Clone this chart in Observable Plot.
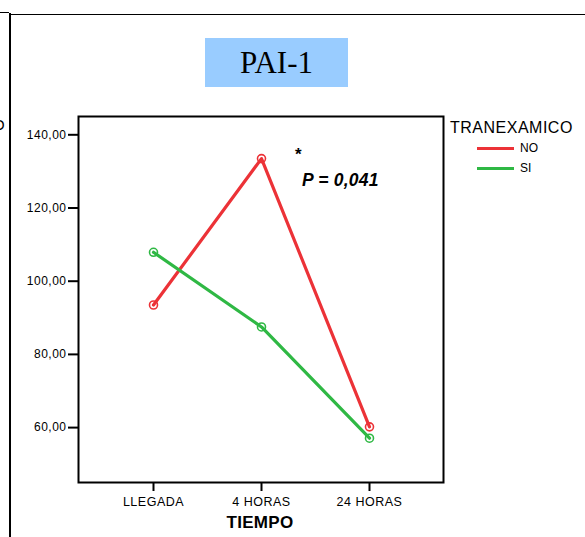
<!DOCTYPE html>
<html>
<head>
<meta charset="utf-8">
<script src="https://cdn.jsdelivr.net/npm/d3@7"></script>
<script src="https://cdn.jsdelivr.net/npm/@observablehq/plot@0.6"></script>
<style>
  html, body { margin: 0; padding: 0; background: #fff; }
  #wrap { position: relative; width: 585px; height: 537px; overflow: hidden; font-family: "Liberation Sans", Arial, sans-serif; }
  #wrap svg { position: absolute; left: 0; top: 0; }
  .abs { position: absolute; white-space: nowrap; }
</style>
</head>
<body>
<div id="wrap">
  <div class="abs" style="left:9px;top:13px;width:2px;height:530px;background:#000"></div>
  <div class="abs" style="left:11px;top:14px;width:580px;height:1px;background:#000"></div>
  <div class="abs" style="left:0px;top:12px;width:9px;height:1px;background:#000"></div>
  <div class="abs" style="left:-7px;top:116px;font-size:15px;line-height:18px;">O</div>
</div>
<script>
const categories = ["LLEGADA", "4 HORAS", "24 HORAS"];
const groups = ["NO", "SI"];
const valuesNO = [93.5, 133.5, 60.2];
const valuesSI = [107.9, 87.5, 57.1];
const yTicks = [60, 80, 100, 120, 140];
const colors = ["#ec3237", "#2fb844"];
const titleText = "PAI-1";
const legendTitle = "TRANEXAMICO";
const xLabel = "TIEMPO";
const annotStar = "*";
const annotP = "P = 0,041";

const data = [];
categories.forEach((c, i) => {
  data.push({tiempo: c, grupo: "NO", value: valuesNO[i]});
  data.push({tiempo: c, grupo: "SI", value: valuesSI[i]});
});

const fmt = v => v.toFixed(2).replace(".", ",");

const chart = Plot.plot({
  width: 585,
  height: 537,
  marginLeft: 78,
  marginRight: 142,
  marginTop: 116,
  marginBottom: 55,
  style: {fontFamily: "'Liberation Sans', Arial, sans-serif", background: "transparent"},
  x: {type: "point", domain: categories, padding: 0.675},
  y: {domain: [45, 145]},
  color: {domain: groups, range: colors},
  marks: [
    Plot.axisY({ticks: yTicks, tickFormat: fmt, tickSize: 10, tickPadding: 2, fontSize: 12, label: null, stroke: "#000", strokeWidth: 2, color: "#000"}),
    Plot.axisX({tickSize: 9, tickPadding: 6, fontSize: 12.5, label: null, stroke: "#000", strokeWidth: 2, color: "#000"}),
    Plot.frame({stroke: "#000", strokeWidth: 2}),
    Plot.line(data, {x: "tiempo", y: "value", z: "grupo", stroke: "grupo", strokeWidth: 3.2}),
    Plot.dot(data, {x: "tiempo", y: "value", stroke: "grupo", r: 4, strokeWidth: 1.6, fill: "none"})
  ]
});
const wrap = document.getElementById("wrap");
wrap.appendChild(chart);
chart.querySelectorAll("text").forEach(t => t.style.letterSpacing = "0.5px");

function addDiv(html, style) {
  const d = document.createElement("div");
  d.className = "abs";
  d.setAttribute("style", style);
  d.textContent = html;
  wrap.appendChild(d);
  return d;
}
// title
addDiv(titleText, "left:205px;top:38px;width:143px;height:49px;background:#99ccff;font-family:'Liberation Serif','Times New Roman',serif;font-size:31px;line-height:49px;text-align:center;color:#000;");
// x axis title
addDiv(xLabel, "left:160px;top:512px;width:200px;text-align:center;font-size:17px;font-weight:bold;line-height:22px;letter-spacing:0.3px;");
// annotation
addDiv(annotStar, "left:295px;top:145px;font-size:17px;font-weight:bold;line-height:20px;");
addDiv(annotP, "left:302px;top:170px;font-size:17.5px;font-weight:bold;font-style:italic;line-height:20px;letter-spacing:0.2px;");
// legend
addDiv(legendTitle, "left:450px;top:118px;font-size:16px;line-height:20px;letter-spacing:0.5px;");
groups.forEach((g, i) => {
  const y = 148 + i * 20;
  addDiv("", `left:477px;top:${y - 1.5}px;width:37px;height:3px;background:${colors[i]};`);
  addDiv(g, `left:520px;top:${y - 8}px;font-size:12px;line-height:16px;`);
});
</script>
</body>
</html>
